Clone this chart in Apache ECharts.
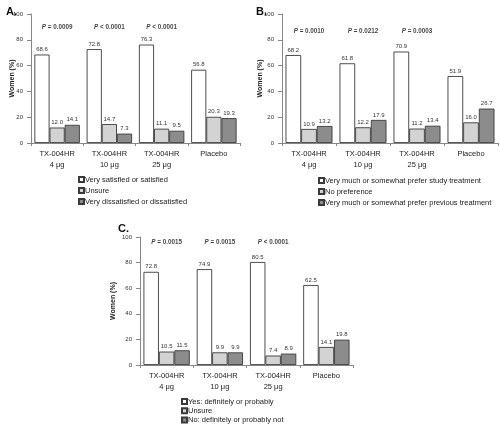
<!DOCTYPE html>
<html>
<head>
<meta charset="utf-8">
<script src="https://cdn.jsdelivr.net/npm/echarts@6/dist/echarts.min.js"></script>
<style>html,body{margin:0;padding:0;background:#fff}#c{width:500px;height:425px}</style>
</head>
<body>
<div id="c"></div>
<script>
var categories = ['TX-004HR\n4 μg', 'TX-004HR\n10 μg', 'TX-004HR\n25 μg', 'Placebo'];
var yTicks = [0, 20, 40, 60, 80, 100];

var namesA = ['Very satisfied or satisfied', 'Unsure', 'Very dissatisfied or dissatisfied'];
var aWhite = [68.6, 72.8, 76.3, 56.8];
var aLight = [12.0, 14.7, 11.1, 20.3];
var aDark = [14.1, 7.3, 9.5, 19.3];
var pA = ['= 0.0009', '< 0.0001', '< 0.0001'];

var namesB = ['Very much or somewhat prefer study treatment', 'No preference', 'Very much or somewhat prefer previous treatment'];
var bWhite = [68.2, 61.8, 70.9, 51.9];
var bLight = [10.9, 12.2, 11.2, 16.0];
var bDark = [13.2, 17.9, 13.4, 26.7];
var pB = ['= 0.0010', '= 0.0212', '= 0.0003'];

var namesC = ['Yes: definitely or probably', 'Unsure ', 'No: definitely or probably not'];
var cWhite = [72.8, 74.9, 80.5, 62.5];
var cLight = [10.5, 9.9, 7.4, 14.1];
var cDark = [11.5, 9.9, 8.9, 19.8];
var pC = ['= 0.0015', '= 0.0015', '< 0.0001'];

var FONT = 'Liberation Sans, Arial, sans-serif';
var colors = ['#ffffff', '#d3d3d3', '#8c8c8c'];
var border = '#3a3a3a';

var grids = [
  {left: 31, top: 14, width: 209, height: 129},
  {left: 282, top: 14, width: 216, height: 129},
  {left: 140, top: 237, width: 213, height: 128}
];
var nameGaps = [15, 18, 23];
var pY = [90, 87, 96];

function xAxis(i) {
  return {
    type: 'category', gridIndex: i, data: categories,
    axisLine: {lineStyle: {color: '#888', width: 1}},
    axisTick: {show: true, length: 3, lineStyle: {color: '#888'}},
    axisLabel: {color: '#222', fontFamily: FONT, fontSize: 7.5, lineHeight: 11, margin: 5}
  };
}
function yAxis(i) {
  return {
    type: 'value', gridIndex: i, min: yTicks[0], max: yTicks[yTicks.length - 1], interval: 20,
    name: 'Women (%)', nameLocation: 'middle', nameGap: nameGaps[i], nameMoveOverlap: false,
    nameTextStyle: {fontFamily: FONT, fontSize: 7, fontWeight: 'bold', color: '#222'},
    axisLine: {show: true, lineStyle: {color: '#888'}},
    axisTick: {show: true, length: 4, lineStyle: {color: '#888'}},
    splitLine: {show: false},
    axisLabel: {color: '#333', fontFamily: FONT, fontSize: 6, margin: 8}
  };
}
function barSeries(name, data, idx, gi) {
  return {
    type: 'bar', name: name, data: data, xAxisIndex: gi, yAxisIndex: gi,
    barGap: '0%', barCategoryGap: '13%',
    itemStyle: {color: colors[idx], borderColor: border, borderWidth: 0.9},
    label: {show: true, position: 'top', distance: 2, color: '#333', fontFamily: FONT, fontSize: 6,
      formatter: function (p) { return p.value.toFixed(1); }},
    emphasis: {disabled: true}, animation: false
  };
}
function pSeries(pvals, gi) {
  return {
    type: 'scatter', name: 'p' + gi, xAxisIndex: gi, yAxisIndex: gi, symbolSize: 0, silent: true,
    data: pvals.map(function (t, k) { return {value: [k, pY[gi]], txt: t}; }),
    label: {show: true, position: 'inside', color: '#111', fontFamily: FONT, fontSize: 6.3, fontWeight: 'bold',
      formatter: function (p) { return '{i|P} ' + p.data.txt; },
      rich: {i: {fontStyle: 'italic', fontWeight: 'bold', fontSize: 6.3, fontFamily: FONT, color: '#111'}}},
    animation: false
  };
}
function legend(names, left, top, gap) {
  return {
    orient: 'vertical', left: left, top: top, data: names, itemWidth: 5, itemHeight: 5, itemGap: gap,
    selectedMode: false, padding: 0,
    textStyle: {fontFamily: FONT, fontSize: 7.5, color: '#222', lineHeight: 9, padding: [0, 0, 0, -4]},
    icon: 'rect'
  };
}

var series = [
  barSeries(namesA[0], aWhite, 0, 0), barSeries(namesA[1], aLight, 1, 0), barSeries(namesA[2], aDark, 2, 0),
  barSeries(namesB[0], bWhite, 0, 1), barSeries(namesB[1], bLight, 1, 1), barSeries(namesB[2], bDark, 2, 1),
  barSeries(namesC[0], cWhite, 0, 2), barSeries(namesC[1], cLight, 1, 2), barSeries(namesC[2], cDark, 2, 2),
  pSeries(pA, 0), pSeries(pB, 1), pSeries(pC, 2)
];

var option = {
  animation: false,
  backgroundColor: '#fff',
  title: [
    {text: 'A.', left: 1, top: 1, textStyle: {fontFamily: FONT, fontSize: 11, fontWeight: 'bold', color: '#111'}},
    {text: 'B.', left: 251, top: 1, textStyle: {fontFamily: FONT, fontSize: 11, fontWeight: 'bold', color: '#111'}},
    {text: 'C.', left: 113, top: 218, textStyle: {fontFamily: FONT, fontSize: 11, fontWeight: 'bold', color: '#111'}}
  ],
  grid: grids,
  xAxis: [xAxis(0), xAxis(1), xAxis(2)],
  yAxis: [yAxis(0), yAxis(1), yAxis(2)],
  legend: [
    legend(namesA, 78, 175, 2),
    legend(namesB, 318, 176, 2),
    legend(namesC, 181, 397, 0.3)
  ],
  series: series
};
var chart = echarts.init(document.getElementById('c'), null, {renderer: 'canvas'});
chart.setOption(option);
</script>
</body>
</html>
